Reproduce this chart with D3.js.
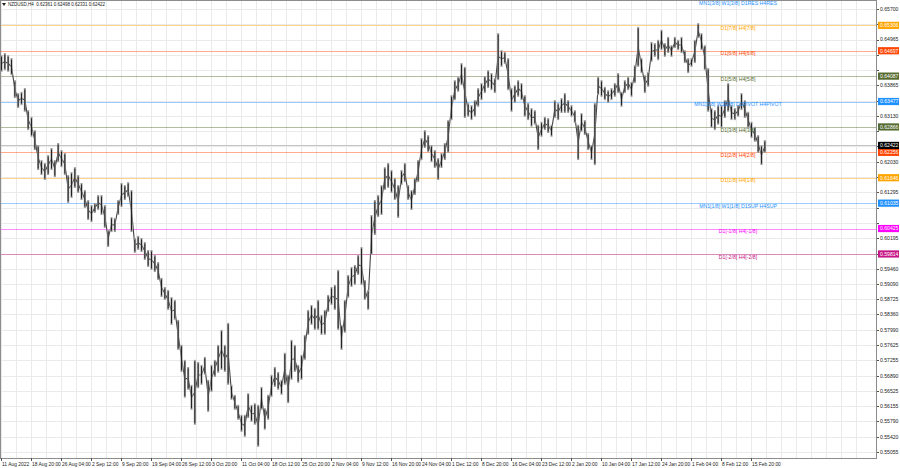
<!DOCTYPE html>
<html><head><meta charset="utf-8">
<script src="https://cdn.jsdelivr.net/npm/d3@7/dist/d3.min.js"></script>
<style>body{margin:0;background:#fff}svg{display:block}text{font-family:"Liberation Sans",Arial,sans-serif}</style>
</head><body><svg id="c" width="900" height="468"></svg>
<script>
// ---- data (each sample ~ 5 H4 bars) ----
const highs=[0.6459,0.6464,0.6459,0.6452,0.6399,0.6368,0.6371,0.6380,0.6327,0.6311,
0.6279,0.6243,0.6207,0.6200,0.6219,0.6236,0.6207,0.6248,0.6231,0.6224,
0.6171,0.6178,0.6190,0.6171,0.6152,0.6135,0.6111,0.6099,0.6104,0.6123,
0.6123,0.6099,0.6039,0.6070,0.6068,0.6111,0.6152,0.6147,0.6154,0.6135,
0.6020,0.6025,0.6020,0.6010,0.5991,0.5991,0.5979,0.5962,0.5924,0.5902,
0.5895,0.5878,0.5871,0.5823,0.5763,0.5727,0.5710,0.5667,0.5727,0.5722,
0.5715,0.5734,0.5679,0.5715,0.5727,0.5763,0.5799,0.5763,0.5816,0.5667,
0.5643,0.5619,0.5595,0.5595,0.5647,0.5619,0.5623,0.5619,0.5662,0.5611,
0.5643,0.5691,0.5710,0.5698,0.5679,0.5744,0.5691,0.5775,0.5763,0.5715,
0.5739,0.5787,0.5847,0.5859,0.5852,0.5871,0.5835,0.5847,0.5883,0.5902,
0.5907,0.5943,0.5811,0.5871,0.5931,0.5950,0.5955,0.5979,0.5998,0.5919,
0.5895,0.6075,0.6111,0.6123,0.6147,0.6190,0.6200,0.6183,0.6164,0.6147,
0.6183,0.6200,0.6147,0.6135,0.6164,0.6207,0.6260,0.6279,0.6267,0.6243,
0.6231,0.6212,0.6224,0.6248,0.6303,0.6363,0.6399,0.6407,0.6440,0.6431,
0.6344,0.6339,0.6351,0.6380,0.6392,0.6409,0.6423,0.6416,0.6404,0.6512,
0.6471,0.6467,0.6452,0.6380,0.6387,0.6399,0.6392,0.6363,0.6344,0.6332,
0.6327,0.6292,0.6299,0.6311,0.6308,0.6292,0.6351,0.6344,0.6356,0.6368,
0.6351,0.6339,0.6327,0.6292,0.6320,0.6303,0.6272,0.6243,0.6344,0.6407,
0.6399,0.6383,0.6375,0.6380,0.6392,0.6416,0.6371,0.6399,0.6407,0.6395,
0.6435,0.6527,0.6452,0.6411,0.6419,0.6491,0.6488,0.6496,0.6520,0.6488,
0.6503,0.6483,0.6503,0.6496,0.6503,0.6471,0.6452,0.6452,0.6496,0.6536,
0.6512,0.6483,0.6428,0.6332,0.6327,0.6339,0.6339,0.6351,0.6392,0.6339,
0.6332,0.6339,0.6368,0.6351,0.6323,0.6299,0.6287,0.6267,0.6243,0.6255];
const lows=[0.6419,0.6423,0.6419,0.6411,0.6356,0.6332,0.6339,0.6323,0.6279,0.6263,
0.6231,0.6183,0.6171,0.6159,0.6171,0.6183,0.6166,0.6202,0.6190,0.6171,
0.6104,0.6116,0.6140,0.6128,0.6111,0.6092,0.6063,0.6058,0.6080,0.6087,
0.6075,0.6044,0.5998,0.6034,0.6034,0.6075,0.6094,0.6111,0.6118,0.6034,
0.5984,0.5991,0.5986,0.5967,0.5950,0.5943,0.5938,0.5919,0.5878,0.5871,
0.5847,0.5811,0.5823,0.5751,0.5698,0.5636,0.5655,0.5607,0.5571,0.5659,
0.5667,0.5691,0.5602,0.5650,0.5686,0.5696,0.5703,0.5698,0.5667,0.5631,
0.5607,0.5583,0.5554,0.5542,0.5587,0.5578,0.5571,0.5518,0.5607,0.5559,
0.5583,0.5638,0.5662,0.5655,0.5643,0.5667,0.5623,0.5679,0.5698,0.5672,
0.5679,0.5727,0.5787,0.5811,0.5799,0.5799,0.5787,0.5787,0.5842,0.5859,
0.5847,0.5799,0.5751,0.5792,0.5876,0.5902,0.5907,0.5931,0.5907,0.5871,
0.5847,0.5979,0.6027,0.6070,0.6075,0.6135,0.6140,0.6128,0.6111,0.6068,
0.6147,0.6154,0.6111,0.6087,0.6123,0.6154,0.6207,0.6236,0.6226,0.6202,
0.6188,0.6159,0.6188,0.6207,0.6224,0.6303,0.6351,0.6371,0.6387,0.6308,
0.6311,0.6303,0.6311,0.6335,0.6351,0.6368,0.6380,0.6375,0.6368,0.6399,
0.6431,0.6438,0.6375,0.6323,0.6344,0.6359,0.6351,0.6311,0.6303,0.6287,
0.6292,0.6231,0.6263,0.6279,0.6272,0.6263,0.6308,0.6303,0.6320,0.6320,
0.6320,0.6311,0.6296,0.6207,0.6275,0.6267,0.6231,0.6207,0.6195,0.6363,
0.6359,0.6351,0.6344,0.6351,0.6359,0.6368,0.6335,0.6368,0.6375,0.6359,
0.6392,0.6431,0.6416,0.6368,0.6383,0.6443,0.6455,0.6447,0.6471,0.6455,
0.6464,0.6455,0.6476,0.6471,0.6464,0.6440,0.6416,0.6431,0.6440,0.6500,
0.6471,0.6423,0.6323,0.6284,0.6279,0.6292,0.6284,0.6308,0.6323,0.6303,
0.6303,0.6311,0.6327,0.6308,0.6284,0.6260,0.6251,0.6224,0.6195,0.6224];
const timeLabels=["11 Aug 2022","18 Aug 20:00","26 Aug 04:00","2 Sep 12:00","9 Sep 20:00","19 Sep 04:00","26 Sep 12:00","3 Oct 20:00","11 Oct 04:00","18 Oct 12:00","25 Oct 20:00","2 Nov 04:00","9 Nov 12:00","16 Nov 20:00","24 Nov 04:00","1 Dec 12:00","8 Dec 20:00","16 Dec 04:00","23 Dec 12:00","2 Jan 20:00","10 Jan 04:00","17 Jan 12:00","24 Jan 20:00","1 Feb 04:00","8 Feb 12:00","15 Feb 20:00"];
const priceTickLabels=["0.65700","0.65335","0.64965","0.64600","0.64230","0.63865","0.63500","0.63130","0.62765","0.62400","0.62030","0.61665","0.61295","0.60925","0.60560","0.60195","0.59825","0.59460","0.59090","0.58725","0.58360","0.57990","0.57625","0.57255","0.56890","0.56525","0.56155","0.55790","0.55420","0.55055"];
const levelValues=[0.65916,0.65306,0.64697,0.64087,0.63477,0.62866,0.62256,0.61646,0.61035,0.60425,0.59814];
const levelNames=["MN1[3/8] W1[3/8] D1RES H4RES","D1[7/8] H4[7/8]","D1[6/8] H4[6/8]","D1[5/8] H4[5/8]","MN1[2/8] W1[2/8] D1PIVOT H4PIVOT","D1[3/8] H4[3/8]","D1[2/8] H4[2/8]","D1[1/8] H4[1/8]","MN1[1/8] W1[1/8] D1SUP H4SUP","D1[-1/8] H4[-1/8]","D1[-2/8] H4[-2/8]"];
const levelColors=["#1E90FF","#FFA500","#FF4500","#556B2F","#1E90FF","#556B2F","#FF4500","#FFA500","#1E90FF","#FF00FF","#C71585"];
const headerText="NZDUSD,H4  0.62361 0.62498 0.62331 0.62422";
const lastPrice=0.62422;

// ---- layout ----
const plotR=876, plotB=458;
const svg=d3.select("#c");
const x=d3.scaleLinear().domain([0,262.8]).range([0,plotR]);
const y=d3.scaleLinear().domain([0.54912,0.65916]).range([plotB,0]);
const fsAxis=5.1, fsTime=4.9;

// grid
const g=svg.append("g");
const priceVals=priceTickLabels.map(Number);
g.selectAll("line.h").data(priceVals).join("line")
 .attr("x1",0).attr("x2",plotR).attr("y1",d=>Math.round(y(d))+0.5).attr("y2",d=>Math.round(y(d))+0.5)
 .attr("stroke","#eaeaea").attr("stroke-width",1);
const vgrid=d3.range(0,58).map(k=>k*4.5);
g.selectAll("line.v").data(vgrid).join("line")
 .attr("x1",d=>Math.round(x(d))+1.5).attr("x2",d=>Math.round(x(d))+1.5).attr("y1",0).attr("y2",plotB)
 .attr("stroke","#eaeaea").attr("stroke-width",1);

// level lines
svg.append("g").selectAll("line").data(levelValues).join("line")
 .attr("x1",0).attr("x2",plotR).attr("y1",d=>Math.round(y(d))+0.5).attr("y2",d=>Math.round(y(d))+0.5)
 .attr("stroke",(d,i)=>levelColors[i]).attr("stroke-opacity",0.45).attr("stroke-width",1);
svg.append("line").attr("x1",0).attr("x2",plotR).attr("y1",Math.round(y(lastPrice))+0.5).attr("y2",Math.round(y(lastPrice))+0.5)
 .attr("stroke","#c4c4c4").attr("stroke-width",1);

// bars
const bars=highs.map((h,i)=>({i,hi:h,lo:lows[i],mid:(h+lows[i])/2}));
const bg=svg.append("g");
bg.append("path").datum(bars)
 .attr("d",d3.line().x(d=>x(d.i)+1.5).y(d=>y(d.mid)))
 .attr("fill","none").attr("stroke","#444").attr("stroke-width",1.1);
bg.selectAll("line.o").data(bars).join("line")
 .attr("x1",d=>x(d.i)+1.5).attr("x2",d=>x(d.i)+1.5).attr("y1",d=>y(d.hi)).attr("y2",d=>y(d.lo))
 .attr("stroke","#9c9c9c").attr("stroke-width",2.1);
bg.selectAll("line.in").data(bars).join("line")
 .attr("x1",d=>x(d.i)+1.5).attr("x2",d=>x(d.i)+1.5).attr("y1",d=>y(d.hi)+1.5).attr("y2",d=>y(d.lo)-1.5)
 .attr("stroke","#222").attr("stroke-width",1.0);

// level labels
svg.append("g").selectAll("text").data(levelValues).join("text")
 .attr("x",738).attr("y",d=>y(d)+4.6).attr("text-anchor","middle")
 .attr("font-size",5.2).attr("fill",(d,i)=>levelColors[i]).text((d,i)=>levelNames[i]);

// frame
svg.append("rect").attr("x",0.5).attr("y",0.5).attr("width",plotR).attr("height",plotB).attr("fill","none").attr("stroke","#8c8c8c");

// tags (levels + current price)
const tagVals=levelValues.slice(1).concat([lastPrice]);
const tagCols=levelColors.slice(1).concat(["#000"]);

// price axis labels (those hidden behind a tag are skipped)
const shown=priceTickLabels.filter(s=>tagVals.every(t=>Math.abs(y(+s)-y(t))>=7.5));
const ax=svg.append("g");
ax.selectAll("text").data(shown).join("text")
 .attr("x",880).attr("y",d=>y(+d)+1.9).attr("font-size",fsAxis).attr("fill","#222").text(d=>d);
ax.selectAll("line").data(priceVals).join("line")
 .attr("x1",plotR+1).attr("x2",plotR+3).attr("y1",d=>Math.round(y(d))+0.5).attr("y2",d=>Math.round(y(d))+0.5).attr("stroke","#555");

const tg=svg.append("g");
tg.selectAll("rect").data(tagVals).join("rect")
 .attr("x",plotR+2).attr("y",d=>y(d)-3.6).attr("width",21).attr("height",7.2).attr("fill",(d,i)=>tagCols[i]);
tg.selectAll("text").data(tagVals).join("text")
 .attr("x",880).attr("y",d=>y(d)+1.9).attr("font-size",fsAxis).attr("fill","#fff").text(d=>d.toFixed(5));

// time axis
const tx=svg.append("g");
tx.selectAll("text").data(timeLabels).join("text")
 .attr("x",(d,i)=>x(9*i)+2).attr("y",465.5).attr("font-size",fsTime).attr("fill","#222").text(d=>d);
tx.selectAll("line").data(timeLabels).join("line")
 .attr("x1",(d,i)=>Math.round(x(9*i))+1.5).attr("x2",(d,i)=>Math.round(x(9*i))+1.5).attr("y1",plotB).attr("y2",plotB+3).attr("stroke","#555");

// header
svg.append("path").attr("d","M2,3 L6,3 L4,6 Z").attr("fill","#222");
svg.append("text").attr("x",8).attr("y",6.3).attr("font-size",4.5).attr("fill","#222").attr("xml:space","preserve").text(headerText);
</script></body></html>
